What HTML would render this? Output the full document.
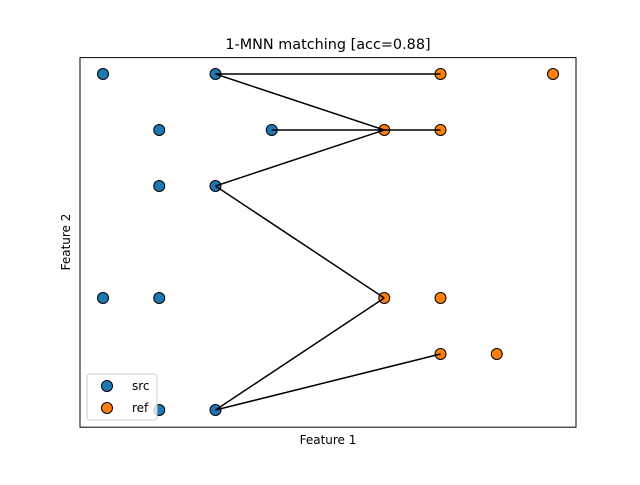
<!DOCTYPE html>
<html><head><meta charset="utf-8"><style>body{margin:0;background:#fff}svg text{font-family:"DejaVu Sans","Liberation Sans",sans-serif}</style></head>
<body>
<svg id="chart" width="640" height="480" xmlns="http://www.w3.org/2000/svg">
<rect x="0" y="0" width="640" height="480" fill="#fff"/>
<g id="marks"></g>
<rect x="80" y="57.6" width="496" height="369.6" fill="none" stroke="#000" stroke-width="1"/>
<text x="328" y="49" font-size="14.4" text-anchor="middle">1-MNN matching [acc=0.88]</text>
<text x="328" y="444" font-size="12" text-anchor="middle">Feature 1</text>
<text x="70" y="242" font-size="12" text-anchor="middle" transform="rotate(-90 70 242)">Feature 2</text>
<g>
<rect x="87" y="374" width="70" height="46" rx="3" fill="#fff" fill-opacity="0.8" stroke="#ccc"/>
<circle cx="107" cy="386" r="5.5" fill="#1f77b4" stroke="#000"/>
<text x="132" y="390" font-size="12">src</text>
<circle cx="107" cy="408" r="5.5" fill="#ff7f0e" stroke="#000"/>
<text x="132" y="412" font-size="12">ref</text>
</g>
</svg>
<script>
const srcX=[0,2,1,3,1,2,0,1,1,2];
const srcY=[6,6,5,5,4,4,2,2,0,0];
const refX=[6,8,5,6,5,6,6,7];
const refY=[6,6,5,5,2,2,1,1];
const matchSrc=[[2,6],[2,6],[3,5],[2,4],[2,4],[2,0],[2,0]];
const matchRef=[[6,6],[5,5],[6,5],[5,5],[5,2],[5,2],[6,1]];
const sx=v=>103+v*56.25;
const sy=v=>410-v*56;
const NS="http://www.w3.org/2000/svg";
const g=document.getElementById('marks');
function dot(x,y,c,n){const e=document.createElementNS(NS,'circle');e.setAttribute('cx',sx(x));e.setAttribute('cy',sy(y));e.setAttribute('r',5.5);e.setAttribute('fill',c);e.setAttribute('stroke','#000');


g.appendChild(e);}
srcX.forEach((x,i)=>dot(x,srcY[i],'#1f77b4','src-point'));
refX.forEach((x,i)=>dot(x,refY[i],'#ff7f0e','ref-point'));
matchSrc.forEach((s,i)=>{const r=matchRef[i];const l=document.createElementNS(NS,'line');l.setAttribute('x1',sx(s[0]));l.setAttribute('y1',sy(s[1]));l.setAttribute('x2',sx(r[0]));l.setAttribute('y2',sy(r[1]));l.setAttribute('stroke','#000');l.setAttribute('stroke-width','1.5');


g.appendChild(l);});
</script>
</body></html>
